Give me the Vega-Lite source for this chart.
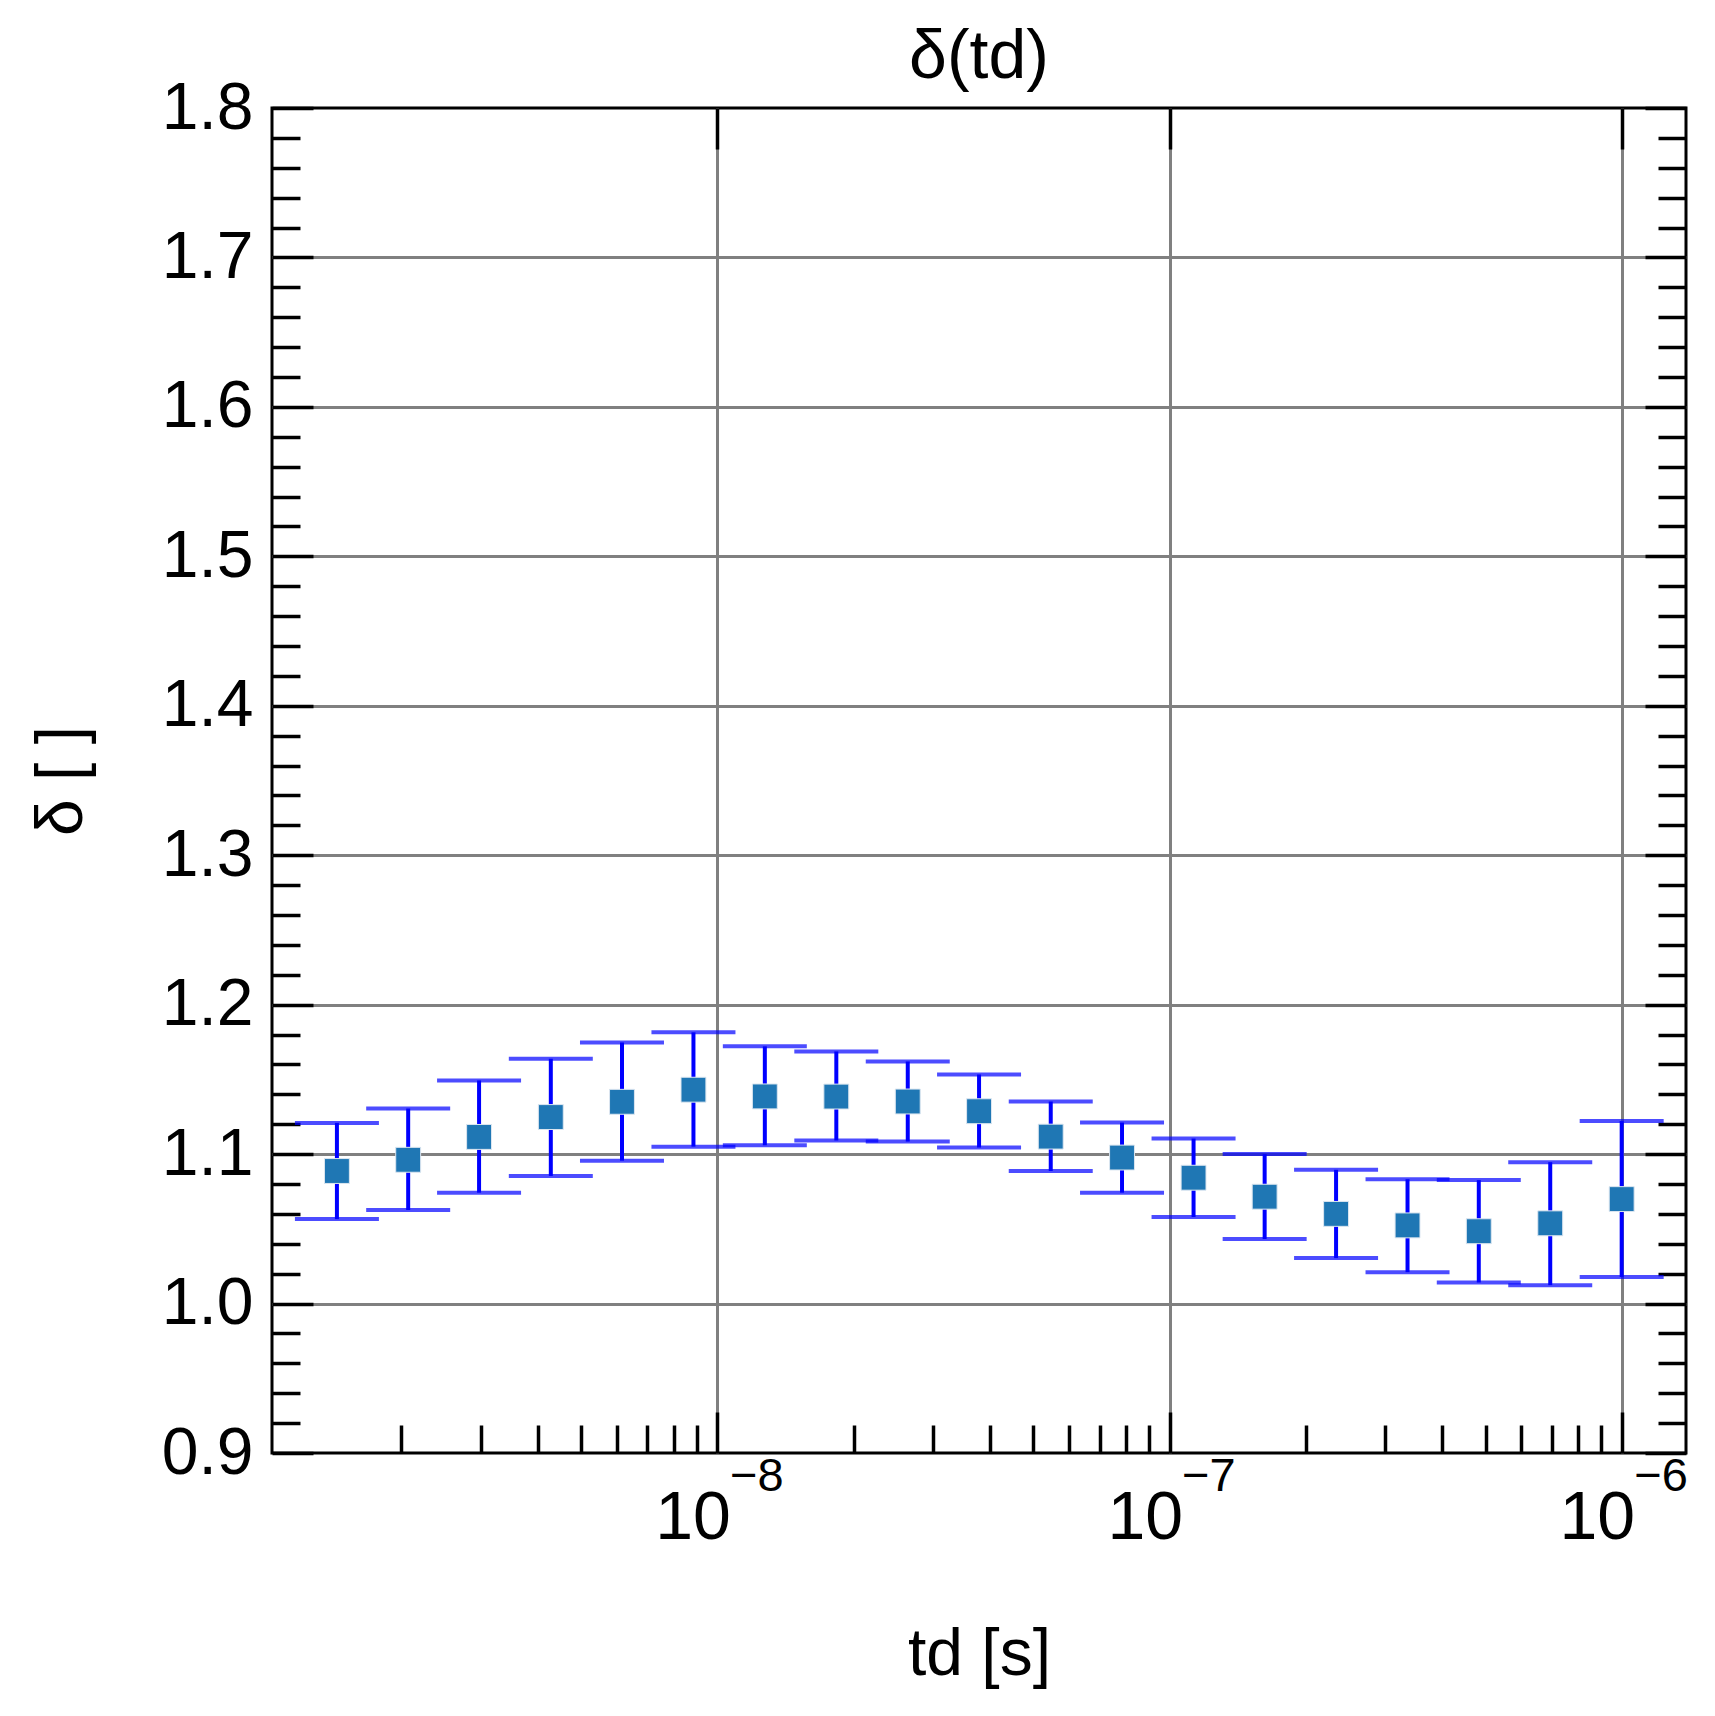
{
  "$schema": "https://vega.github.io/schema/vega-lite/v6.json",
  "width": 1414,
  "height": 1345,
  "autosize": {"type": "none"},
  "padding": {"left": 272, "top": 108, "right": 29, "bottom": 263},
  "background": "white",
  "title": {
    "text": "δ(td)",
    "fontSize": 68,
    "fontWeight": "normal",
    "font": "Liberation Sans",
    "color": "black",
    "anchor": "middle",
    "frame": "group",
    "baseline": "alphabetic",
    "offset": -71
  },
  "data": {
    "values": [
      {"t": 1.44e-9, "d": 1.0887, "lo": 1.0565, "hi": 1.1209},
      {"t": 2.07e-9, "d": 1.0962, "lo": 1.0626, "hi": 1.1305},
      {"t": 2.97e-9, "d": 1.1115, "lo": 1.0742, "hi": 1.1493},
      {"t": 4.28e-9, "d": 1.1248, "lo": 1.0854, "hi": 1.1638},
      {"t": 6.15e-9, "d": 1.1350, "lo": 1.0956, "hi": 1.1747},
      {"t": 8.85e-9, "d": 1.1431, "lo": 1.1050, "hi": 1.1815},
      {"t": 1.273e-8, "d": 1.1386, "lo": 1.1059, "hi": 1.1721},
      {"t": 1.832e-8, "d": 1.1385, "lo": 1.1091, "hi": 1.1687},
      {"t": 2.636e-8, "d": 1.1352, "lo": 1.1084, "hi": 1.1620},
      {"t": 3.79e-8, "d": 1.1287, "lo": 1.1044, "hi": 1.1533},
      {"t": 5.46e-8, "d": 1.1117, "lo": 1.0887, "hi": 1.1352},
      {"t": 7.85e-8, "d": 1.0977, "lo": 1.0742, "hi": 1.1211},
      {"t": 1.13e-7, "d": 1.0842, "lo": 1.0579, "hi": 1.1104},
      {"t": 1.623e-7, "d": 1.0715, "lo": 1.0432, "hi": 1.1000},
      {"t": 2.335e-7, "d": 1.0600, "lo": 1.0304, "hi": 1.0895},
      {"t": 3.36e-7, "d": 1.0523, "lo": 1.0210, "hi": 1.0832},
      {"t": 4.83e-7, "d": 1.0484, "lo": 1.0141, "hi": 1.0826},
      {"t": 6.95e-7, "d": 1.0537, "lo": 1.0123, "hi": 1.0946},
      {"t": 1.0e-6, "d": 1.0699, "lo": 1.0177, "hi": 1.1221}
    ]
  },
  "layer": [
    {
      "mark": {"type": "rule", "color": "#0000ff", "strokeWidth": 4},
      "encoding": {
        "x": {
          "field": "t",
          "type": "quantitative",
          "scale": {"type": "log", "domain": [1.0346e-9, 1.3876e-6], "nice": false},
          "axis": {
            "orient": "bottom",
            "values": [1e-8, 1e-7, 1e-6],
            "grid": true,
            "domain": false,
            "ticks": true,
            "tickSize": -41,
            "labelExpr": "'10'",
            "labelAlign": "right",
            "labelBaseline": "alphabetic",
            "labelOffset": 13,
            "labelPadding": 126,
            "labelFontSize": 68,
            "title": "td [s]",
            "titleY": 221,
            "titleBaseline": "alphabetic",
            "titleFontSize": 66
          }
        },
        "y": {
          "field": "lo",
          "type": "quantitative",
          "scale": {"domain": [0.9, 1.8], "nice": false, "zero": false},
          "axis": {
            "orient": "left",
            "values": [0.9, 1.0, 1.1, 1.2, 1.3, 1.4, 1.5, 1.6, 1.7, 1.8],
            "grid": true,
            "gridOpacity": {"condition": {"test": "datum.value < 0.95 || datum.value > 1.75", "value": 0}, "value": 1},
            "domain": false,
            "ticks": true,
            "tickSize": -41,
            "format": ".1f",
            "labelPadding": 60,
            "labelFontSize": 66,
            "title": "δ [ ]",
            "titleX": -191,
            "titleBaseline": "alphabetic",
            "titleFontSize": 66
          }
        },
        "y2": {"field": "hi"}
      }
    },
    {
      "mark": {"type": "tick", "orient": "horizontal", "color": "#0000ff", "size": 84, "thickness": 4},
      "encoding": {
        "x": {
          "field": "t",
          "type": "quantitative",
          "axis": {
            "orient": "bottom",
            "values": [2e-9, 3e-9, 4e-9, 5e-9, 6e-9, 7e-9, 8e-9, 9e-9, 2e-8, 3e-8, 4e-8, 5e-8, 6e-8, 7e-8, 8e-8, 9e-8, 2e-7, 3e-7, 4e-7, 5e-7, 6e-7, 7e-7, 8e-7, 9e-7],
            "grid": false,
            "domain": false,
            "labels": false,
            "tickSize": -28,
            "title": null
          }
        },
        "y": {
          "field": "hi",
          "type": "quantitative",
          "axis": {
            "orient": "left",
            "values": [0.92, 0.94, 0.96, 0.98, 1.02, 1.04, 1.06, 1.08, 1.12, 1.14, 1.16, 1.18, 1.22, 1.24, 1.26, 1.28, 1.32, 1.34, 1.36, 1.38, 1.42, 1.44, 1.46, 1.48, 1.52, 1.54, 1.56, 1.58, 1.62, 1.64, 1.66, 1.68, 1.72, 1.74, 1.76, 1.78],
            "grid": false,
            "domain": false,
            "labels": false,
            "tickSize": -28,
            "title": null
          }
        }
      }
    },
    {
      "mark": {"type": "tick", "orient": "horizontal", "color": "#0000ff", "size": 84, "thickness": 4},
      "encoding": {
        "x": {
          "field": "t",
          "type": "quantitative",
          "axis": {
            "orient": "bottom",
            "values": [1e-8, 1e-7, 1e-6],
            "grid": false,
            "domain": false,
            "ticks": false,
            "tickSize": 0,
            "labelExpr": "'−' + format(-log(datum.value) / LN10, '.0f')",
            "labelAlign": "left",
            "labelBaseline": "alphabetic",
            "labelOffset": 12,
            "labelPadding": 37,
            "labelFontSize": 47,
            "title": null
          }
        },
        "y": {
          "field": "lo",
          "type": "quantitative",
          "axis": {
            "orient": "right",
            "values": [0.9, 1.0, 1.1, 1.2, 1.3, 1.4, 1.5, 1.6, 1.7, 1.8],
            "grid": false,
            "domain": false,
            "labels": false,
            "tickSize": -41,
            "title": null
          }
        }
      }
    },
    {
      "mark": {"type": "point", "shape": "square", "filled": true, "size": 620, "color": "#1f77b4", "opacity": 1, "stroke": "#dce6f0", "strokeWidth": 1},
      "encoding": {
        "x": {
          "field": "t",
          "type": "quantitative",
          "axis": {
            "orient": "top",
            "values": [1e-8, 1e-7, 1e-6],
            "grid": false,
            "domain": false,
            "labels": false,
            "tickSize": -41,
            "title": null
          }
        },
        "y": {
          "field": "d",
          "type": "quantitative",
          "axis": {
            "orient": "right",
            "values": [0.92, 0.94, 0.96, 0.98, 1.02, 1.04, 1.06, 1.08, 1.12, 1.14, 1.16, 1.18, 1.22, 1.24, 1.26, 1.28, 1.32, 1.34, 1.36, 1.38, 1.42, 1.44, 1.46, 1.48, 1.52, 1.54, 1.56, 1.58, 1.62, 1.64, 1.66, 1.68, 1.72, 1.74, 1.76, 1.78],
            "grid": false,
            "domain": false,
            "labels": false,
            "tickSize": -28,
            "title": null
          }
        }
      }
    }
  ],
  "resolve": {"axis": {"x": "independent", "y": "independent"}},
  "config": {
    "font": "Liberation Sans",
    "view": {"stroke": "black", "strokeWidth": 3},
    "axis": {
      "gridColor": "#808080",
      "gridWidth": 3,
      "gridOpacity": 1,
      "tickColor": "black",
      "tickWidth": 3.5,
      "labelColor": "black",
      "labelFont": "Liberation Sans",
      "titleColor": "black",
      "titleFont": "Liberation Sans",
      "titleFontWeight": "normal",
      "labelOverlap": false,
      "labelFlush": false
    }
  }
}
